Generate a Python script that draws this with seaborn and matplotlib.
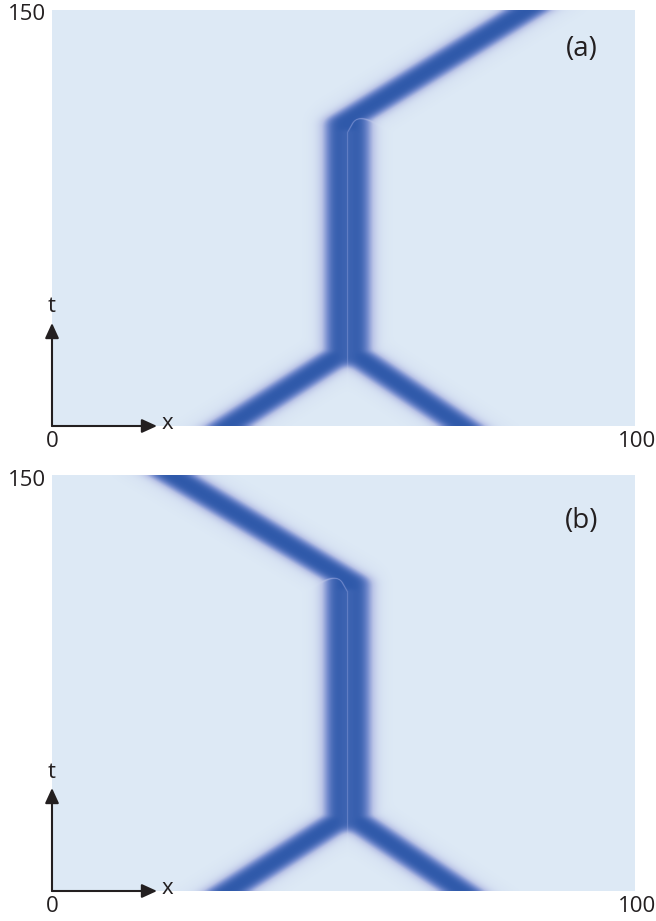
import numpy as np
import matplotlib
matplotlib.use("Agg")
import matplotlib.pyplot as plt
import seaborn as sns
from matplotlib.colors import LinearSegmentedColormap

sns.set_theme(style="white")
plt.rcParams["font.family"] = ["Open Sans", "DejaVu Sans"]

# ---- domain and labels ----
X_RANGE = [0, 100]
T_RANGE = [0, 150]
x_tick_labels = ["0", "100"]
t_tick_label = "150"
panel_tags = ["(a)", "(b)"]

# ---- soliton world-lines, (x, t) vertices ----
# panel (a): the pair binds, then the left member escapes to the right
a_left_x = [30.2, 48.9, 48.9, 81.5]
a_left_t = [0.0, 25.0, 108.0, 150.0]
a_right_x = [70.3, 52.5, 52.5]
a_right_t = [0.0, 25.0, 109.0]
# panel (b): the pair binds, then the right member escapes to the left
b_left_x = [30.2, 48.9, 48.9]
b_left_t = [0.0, 25.0, 111.0]
b_right_x = [70.3, 52.5, 52.5, 20.6]
b_right_t = [0.0, 25.0, 110.0, 150.0]

# ---- raster of the density field ----
NX, NT = 583, 416                      # one cell per output pixel
SX = NX / (X_RANGE[1] - X_RANGE[0])    # pixels per unit x
ST = NT / (T_RANGE[1] - T_RANGE[0])    # pixels per unit t
HALF_W = 11.0                          # stroke half-width (px)
SOFT = 1.8                             # edge softness (px)
X_BLUR = 6.0                           # horizontal smoothing (px)
T_BLUR = 1.3                           # vertical smoothing (px)

xc = (np.arange(NX) + 0.5) / SX
tc = (np.arange(NT) + 0.5) / ST
XX, TT = np.meshgrid(xc * SX, tc * ST)


def extend(xs, ts):
    """Push the open ends of a world-line past the frame so no caps show."""
    xs = list(np.asarray(xs, float) * SX)
    ts = list(np.asarray(ts, float) * ST)
    dx0, dt0 = xs[0] - xs[1], ts[0] - ts[1]
    n0 = np.hypot(dx0, dt0)
    xs.insert(0, xs[0] + dx0 / n0 * 40)
    ts.insert(0, ts[0] + dt0 / n0 * 40)
    if ts[-1] >= NT - 1e-6:
        dx1, dt1 = xs[-1] - xs[-2], ts[-1] - ts[-2]
        n1 = np.hypot(dx1, dt1)
        xs.append(xs[-1] + dx1 / n1 * 40)
        ts.append(ts[-1] + dt1 / n1 * 40)
    return np.array(xs), np.array(ts)


def polyline_distance(xs, ts):
    d = np.full(XX.shape, np.inf)
    for i in range(len(xs) - 1):
        ax_, at_, bx, bt = xs[i], ts[i], xs[i + 1], ts[i + 1]
        vx, vt = bx - ax_, bt - at_
        u = np.clip(((XX - ax_) * vx + (TT - at_) * vt) / (vx * vx + vt * vt), 0, 1)
        d = np.minimum(d, np.hypot(XX - ax_ - u * vx, TT - at_ - u * vt))
    return d


def profile(d):
    core = 1.0 / (1.0 + np.exp((d - HALF_W) / SOFT))
    halo = 0.08 * np.exp(-(np.clip(d - HALF_W, 0, None) / 14.0) ** 2)
    return np.clip(core + halo, 0, 1)


def smooth(field, sigma, axis):
    r = max(int(3 * sigma), 1)
    k = np.exp(-0.5 * (np.arange(-r, r + 1) / sigma) ** 2)
    k /= k.sum()
    f = np.moveaxis(field, axis, 1)
    padded = np.pad(f, ((0, 0), (r, r)), mode="edge")
    out = np.array([np.convolve(row, k, mode="valid") for row in padded])
    return np.moveaxis(out, 1, axis)


def density(lx, lt, rx, rt):
    dl = polyline_distance(*extend(lx, lt))
    dr = polyline_distance(*extend(rx, rt))
    il, ir = profile(dl), profile(dr)
    field = smooth(smooth(np.maximum(il, ir), X_BLUR, 1), T_BLUR, 0)
    # thin bright seam where the two bound solitons touch
    seam = np.exp(-((dl - dr) / 1.3) ** 2) * np.minimum(il, ir)
    field = field - 0.28 * seam
    return np.clip(field, 0, 1)


fields = [density(a_left_x, a_left_t, a_right_x, a_right_t),
          density(b_left_x, b_left_t, b_right_x, b_right_t)]

cmap = LinearSegmentedColormap.from_list(
    "soliton", ["#dde9f5", "#b9c3e6", "#7189cc", "#2f59aa"])

# ---- figure ----
W, H = 656, 921
fig = plt.figure(figsize=(W / 100, H / 100), dpi=100)

left_px, right_px = 52, 635
panel_tops = [10, 475]
panel_h = 416
ink = "#231f20"


def fx(px):
    return px / W


def fy(py):
    return 1 - py / H


for k, (field, top) in enumerate(zip(fields, panel_tops)):
    bottom = top + panel_h
    ax = fig.add_axes([fx(left_px), fy(bottom), (right_px - left_px) / W, panel_h / H])
    sns.heatmap(field[::-1], ax=ax, cmap=cmap, vmin=0, vmax=1, cbar=False,
                xticklabels=False, yticklabels=False, rasterized=True)
    ax.set_xlabel("")
    ax.set_ylabel("")
    for s in ax.spines.values():
        s.set_visible(False)

    # tick values
    fig.text(fx(46), fy(top + 5), t_tick_label, ha="right", va="center",
             fontsize=16, color=ink)
    fig.text(fx(left_px), fy(bottom + 15), x_tick_labels[0], ha="center",
             va="center", fontsize=16, color=ink)
    fig.text(fx(637), fy(bottom + 15), x_tick_labels[1], ha="center",
             va="center", fontsize=16, color=ink)

    # panel tag
    fig.text(fx(582), fy(top + (39 if k == 0 else 46)), panel_tags[k],
             ha="center", va="center", fontsize=20, color=ink)

    # coordinate arrows
    arrow_kw = dict(arrowstyle="-|>,head_length=0.7,head_width=0.32",
                    color=ink, lw=1.5, shrinkA=0, shrinkB=0,
                    mutation_scale=13)
    ax.annotate("", xy=(0, 103 / panel_h), xytext=(0, 0),
                xycoords="axes fraction", textcoords="axes fraction",
                arrowprops=arrow_kw, annotation_clip=False)
    ax.annotate("", xy=(105 / (right_px - left_px), 0), xytext=(0, 0),
                xycoords="axes fraction", textcoords="axes fraction",
                arrowprops=arrow_kw, annotation_clip=False)
    fig.text(fx(52), fy(bottom - 119), "t", ha="center", va="center",
             fontsize=16, color=ink)
    fig.text(fx(167), fy(bottom - 3), "x", ha="center", va="center",
             fontsize=16, color=ink)

fig.savefig("out.png", dpi=100)
